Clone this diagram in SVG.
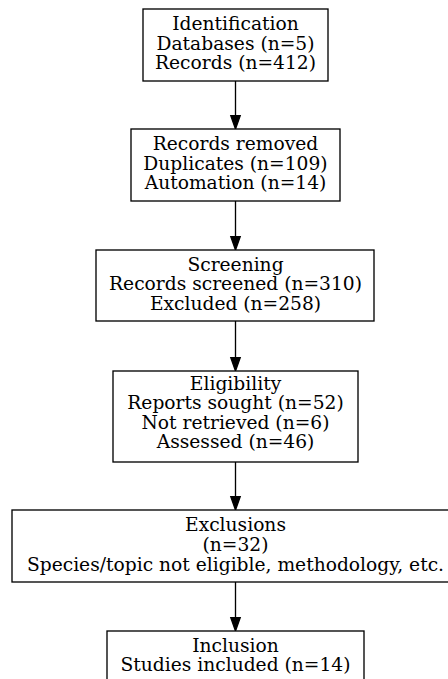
<svg xmlns="http://www.w3.org/2000/svg" width="448" height="679" viewBox="0 0 448 679">
<style>
  .box { fill: #ffffff; stroke: #000000; stroke-width: 1.33; }
  .lbl { font-family: "DejaVu Serif", "Liberation Serif", serif; font-size: 18.67px; fill: #000000; text-anchor: middle; }
  .edge { stroke: #000000; stroke-width: 1.33; fill: none; }
  .head { fill: #000000; stroke: #000000; stroke-width: 1.33; }
</style>
<rect x="0" y="0" width="448" height="679" fill="#ffffff"/>
<g id="connectors">
  <line class="edge" x1="235.5" y1="81" x2="235.5" y2="116"/>
  <polygon class="head" points="235.5,129 230.8,115.7 240.2,115.7"/>
  <line class="edge" x1="235.5" y1="201" x2="235.5" y2="237"/>
  <polygon class="head" points="235.5,250 230.8,236.7 240.2,236.7"/>
  <line class="edge" x1="235.5" y1="321" x2="235.5" y2="358"/>
  <polygon class="head" points="235.5,371 230.8,357.7 240.2,357.7"/>
  <line class="edge" x1="235.5" y1="462" x2="235.5" y2="497"/>
  <polygon class="head" points="235.5,510 230.8,496.7 240.2,496.7"/>
  <line class="edge" x1="235.5" y1="582" x2="235.5" y2="618"/>
  <polygon class="head" points="235.5,631 230.8,617.7 240.2,617.7"/>
</g>
<g id="identification">
  <rect class="box" x="143" y="9" width="185" height="72"/>
  <text class="lbl" x="235.5" y="30">Identification</text>
  <text class="lbl" x="235.5" y="49.5">Databases (n=5)</text>
  <text class="lbl" x="235.5" y="69">Records (n=412)</text>
</g>
<g id="removed">
  <rect class="box" x="131" y="129" width="209" height="72"/>
  <text class="lbl" x="235.5" y="150">Records removed</text>
  <text class="lbl" x="235.5" y="169.5">Duplicates (n=109)</text>
  <text class="lbl" x="235.5" y="189">Automation (n=14)</text>
</g>
<g id="screening">
  <rect class="box" x="96" y="250" width="278" height="71"/>
  <text class="lbl" x="235.5" y="270.5">Screening</text>
  <text class="lbl" x="235.5" y="290">Records screened (n=310)</text>
  <text class="lbl" x="235.5" y="309.5">Excluded (n=258)</text>
</g>
<g id="eligibility">
  <rect class="box" x="113" y="371" width="245" height="91"/>
  <text class="lbl" x="235.5" y="390">Eligibility</text>
  <text class="lbl" x="235.5" y="409.3">Reports sought (n=52)</text>
  <text class="lbl" x="235.5" y="428.6">Not retrieved (n=6)</text>
  <text class="lbl" x="235.5" y="447.9">Assessed (n=46)</text>
</g>
<g id="exclusions">
  <rect class="box" x="12" y="510" width="447" height="72"/>
  <text class="lbl" x="235.5" y="531">Exclusions</text>
  <text class="lbl" x="235.5" y="550.5">(n=32)</text>
  <text class="lbl" x="235.5" y="570.5">Species/topic not eligible, methodology, etc.</text>
</g>
<g id="inclusion">
  <rect class="box" x="107" y="631" width="257" height="53"/>
  <text class="lbl" x="235.5" y="652">Inclusion</text>
  <text class="lbl" x="235.5" y="671">Studies included (n=14)</text>
</g>
</svg>
